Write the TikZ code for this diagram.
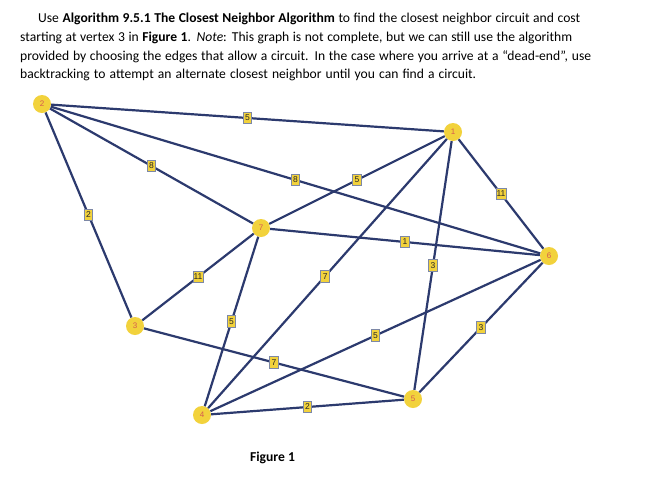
\documentclass[tikz,border=0pt]{standalone}
\usepackage{fontspec}
\setmainfont{Carlito}
\setsansfont{Liberation Sans}
\definecolor{edgeblue}{HTML}{2C3A6E}
\definecolor{nodeyellow}{HTML}{F2D23C}
\definecolor{numred}{HTML}{D65A50}
\definecolor{boxborder}{HTML}{7D88A6}
\tikzset{
  vtx/.style={circle,fill=nodeyellow,draw=none,minimum size=18pt,inner sep=0pt,font=\sffamily\fontsize{8}{8}\selectfont,text=numred},
  edge/.style={draw=edgeblue,line width=2.2pt},
  wlabel/.style={fill=nodeyellow,draw=boxborder,line width=0.8pt,inner sep=0.6pt,minimum width=8.5pt,minimum height=11.5pt,font=\sffamily\fontsize{8.5}{8.5}\selectfont,text=black!85},
  para/.style={anchor=base west,inner sep=0pt,font=\fontsize{13.6}{16}\selectfont}
}
\begin{document}
\begin{tikzpicture}[x=1pt,y=-1pt]
\useasboundingbox (0,0) rectangle (670,491);
\fill[white] (0,0) rectangle (670,491);
\node[para] (l1) at (38,22) {\makebox[542pt][s]{Use \textbf{Algorithm 9.5.1 The Closest Neighbor Algorithm} to find the closest neighbor circuit and cost}};
\node[para] (l2) at (20,41) {\makebox[552pt][s]{starting at vertex 3 in \textbf{Figure 1}. \textit{Note}: This graph is not complete, but we can still use the algorithm}};
\node[para] (l3) at (20,60) {\makebox[571pt][s]{provided by choosing the edges that allow a circuit. In the case where you arrive at a “dead-end”, use}};
\node[para] (l4) at (20,78.5) {\makebox[456pt][s]{backtracking to attempt an alternate closest neighbor until you can find a circuit.}};

\node[vtx] (v2) at (42,104) {2};
\node[vtx] (v1) at (453,132) {1};
\node[vtx] (v7) at (261,228) {7};
\node[vtx] (v6) at (549,256) {6};
\node[vtx] (v3) at (135,326) {3};
\node[vtx] (v5) at (413,399) {5};
\node[vtx] (v4) at (202,415) {4};

\draw[edge] (v2) -- node[wlabel,pos=0.5] {5} (v1);
\draw[edge] (v2) -- node[wlabel,pos=0.50] {8} (v7);
\draw[edge] (v2) -- node[wlabel,pos=0.50] {8} (v6);
\draw[edge] (v2) -- node[wlabel,pos=0.50] {2} (v3);
\draw[edge] (v7) -- node[wlabel,pos=0.50] {5} (v1);
\draw[edge] (v4) -- node[wlabel,pos=0.49] {7} (v1);
\draw[edge] (v5) -- node[wlabel,pos=0.50] {3} (v1);
\draw[edge] (v1) -- node[wlabel,pos=0.50] {11} (v6);
\draw[edge] (v7) -- node[wlabel,pos=0.50] {1} (v6);
\draw[edge] (v3) -- node[wlabel,pos=0.50] {11} (v7);
\draw[edge] (v4) -- node[wlabel,pos=0.50] {5} (v7);
\draw[edge] (v3) -- node[wlabel,pos=0.50] {7} (v5);
\draw[edge] (v4) -- node[wlabel,pos=0.50] {5} (v6);
\draw[edge] (v4) -- node[wlabel,pos=0.50] {2} (v5);
\draw[edge] (v5) -- node[wlabel,pos=0.50] {3} (v6);

\node[font=\bfseries\fontsize{13.6}{16}\selectfont,inner sep=0pt] (cap) at (272.5,458) {Figure 1};
\end{tikzpicture}
\end{document}
